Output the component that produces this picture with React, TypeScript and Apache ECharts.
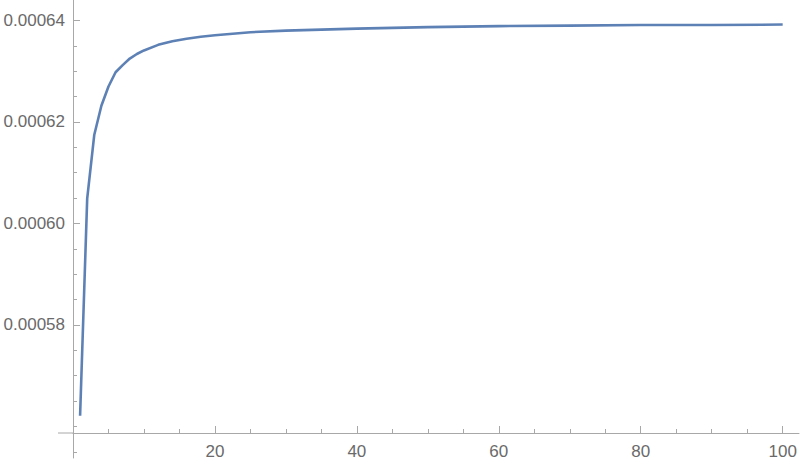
import { useEffect, useRef } from "react";
import * as echarts from "echarts";

// sample points of the curve (x = n, y = value)
const N_VALUES = [1, 2, 3, 4, 5, 6, 7, 8, 9, 10, 12, 14, 16, 18, 20, 25, 30, 40, 50, 60, 70, 80, 90, 100];
const Y_VALUES = [
  0.0005621, 0.0006049, 0.0006175, 0.0006232, 0.000627, 0.0006298, 0.0006312, 0.0006325,
  0.0006334, 0.0006341, 0.0006352, 0.0006359, 0.0006364, 0.0006368, 0.0006371, 0.0006377,
  0.000638, 0.0006384, 0.0006387, 0.0006389, 0.000639, 0.0006391, 0.0006391, 0.0006392,
];

const X_MAJOR = [20, 40, 60, 80, 100];
const X_MINOR = [5, 10, 15, 25, 30, 35, 45, 50, 55, 65, 70, 75, 85, 90, 95];
const Y_MAJOR = [0.00058, 0.0006, 0.00062, 0.00064];
const Y_MINOR = [
  0.000555, 0.00056, 0.000565, 0.00057, 0.000575, 0.000585, 0.00059, 0.000595,
  0.000605, 0.00061, 0.000615, 0.000625, 0.00063, 0.000635,
];

const AXIS_COLOR = "#a8a8a8";
const LABEL_COLOR = "#6a6a6a";
const FONT = "Liberation Sans";

export default function App() {
  const chartRef = useRef<HTMLDivElement>(null);

  useEffect(() => {
    if (!chartRef.current) return;
    const chart = echarts.init(chartRef.current, null, { renderer: "svg" });

    const xBase = {
      type: "value",
      min: 0,
      max: 102.3,
      position: "bottom",
      offset: -25,
      splitLine: { show: false },
    };
    const yBase = {
      type: "value",
      position: "left",
      min: 0.00055379,
      max: 0.00064404,
      splitLine: { show: false },
    };

    const option = {
      animation: false,
      backgroundColor: "#ffffff",
      grid: {
        left: 73,
        right: 1,
        top: 0,
        bottom: 9,
        containLabel: false,
        outerBoundsMode: "none",
      },
      // short stub of the horizontal axis left of the vertical one
      graphic: [
        {
          type: "line",
          shape: { x1: 58, y1: 433, x2: 73, y2: 433 },
          style: { stroke: AXIS_COLOR, lineWidth: 1 },
          silent: true,
        },
      ],
      xAxis: [
        {
          ...xBase,
          axisLine: { show: true, onZero: false, lineStyle: { color: AXIS_COLOR, width: 1 } },
          axisTick: {
            show: true,
            inside: true,
            length: 7,
            customValues: X_MAJOR,
            lineStyle: { color: AXIS_COLOR },
          },
          axisLabel: {
            customValues: X_MAJOR,
            margin: 10,
            color: LABEL_COLOR,
            fontSize: 17,
            fontFamily: FONT,
          },
        },
        {
          ...xBase,
          axisLine: { show: false, onZero: false },
          axisTick: {
            show: true,
            inside: true,
            length: 4,
            customValues: X_MINOR,
            lineStyle: { color: AXIS_COLOR },
          },
          axisLabel: { show: false },
        },
      ],
      yAxis: [
        {
          ...yBase,
          axisLine: { show: true, onZero: false, lineStyle: { color: AXIS_COLOR, width: 1 } },
          axisTick: {
            show: true,
            inside: true,
            length: 7,
            customValues: Y_MAJOR,
            lineStyle: { color: AXIS_COLOR },
          },
          axisLabel: {
            customValues: Y_MAJOR,
            formatter: (v: number) => v.toFixed(5),
            margin: 8,
            color: LABEL_COLOR,
            fontSize: 17,
            fontFamily: FONT,
          },
        },
        {
          ...yBase,
          axisLine: { show: false, onZero: false },
          axisTick: {
            show: true,
            inside: true,
            length: 4,
            customValues: Y_MINOR,
            lineStyle: { color: AXIS_COLOR },
          },
          axisLabel: { show: false },
        },
      ],
      series: [
        {
          type: "line",
          xAxisIndex: 0,
          yAxisIndex: 0,
          showSymbol: false,
          data: N_VALUES.map((n, i) => [n, Y_VALUES[i]]),
          lineStyle: { color: "#5E81B5", width: 2.6 },
          itemStyle: { color: "#5E81B5" },
        },
      ],
    };

    chart.setOption(option);
    return () => chart.dispose();
  }, []);

  return (
    <div
      ref={chartRef}
      style={{
        position: "absolute",
        left: 0,
        top: 0,
        width: 800,
        height: 467,
      }}
    />
  );
}
